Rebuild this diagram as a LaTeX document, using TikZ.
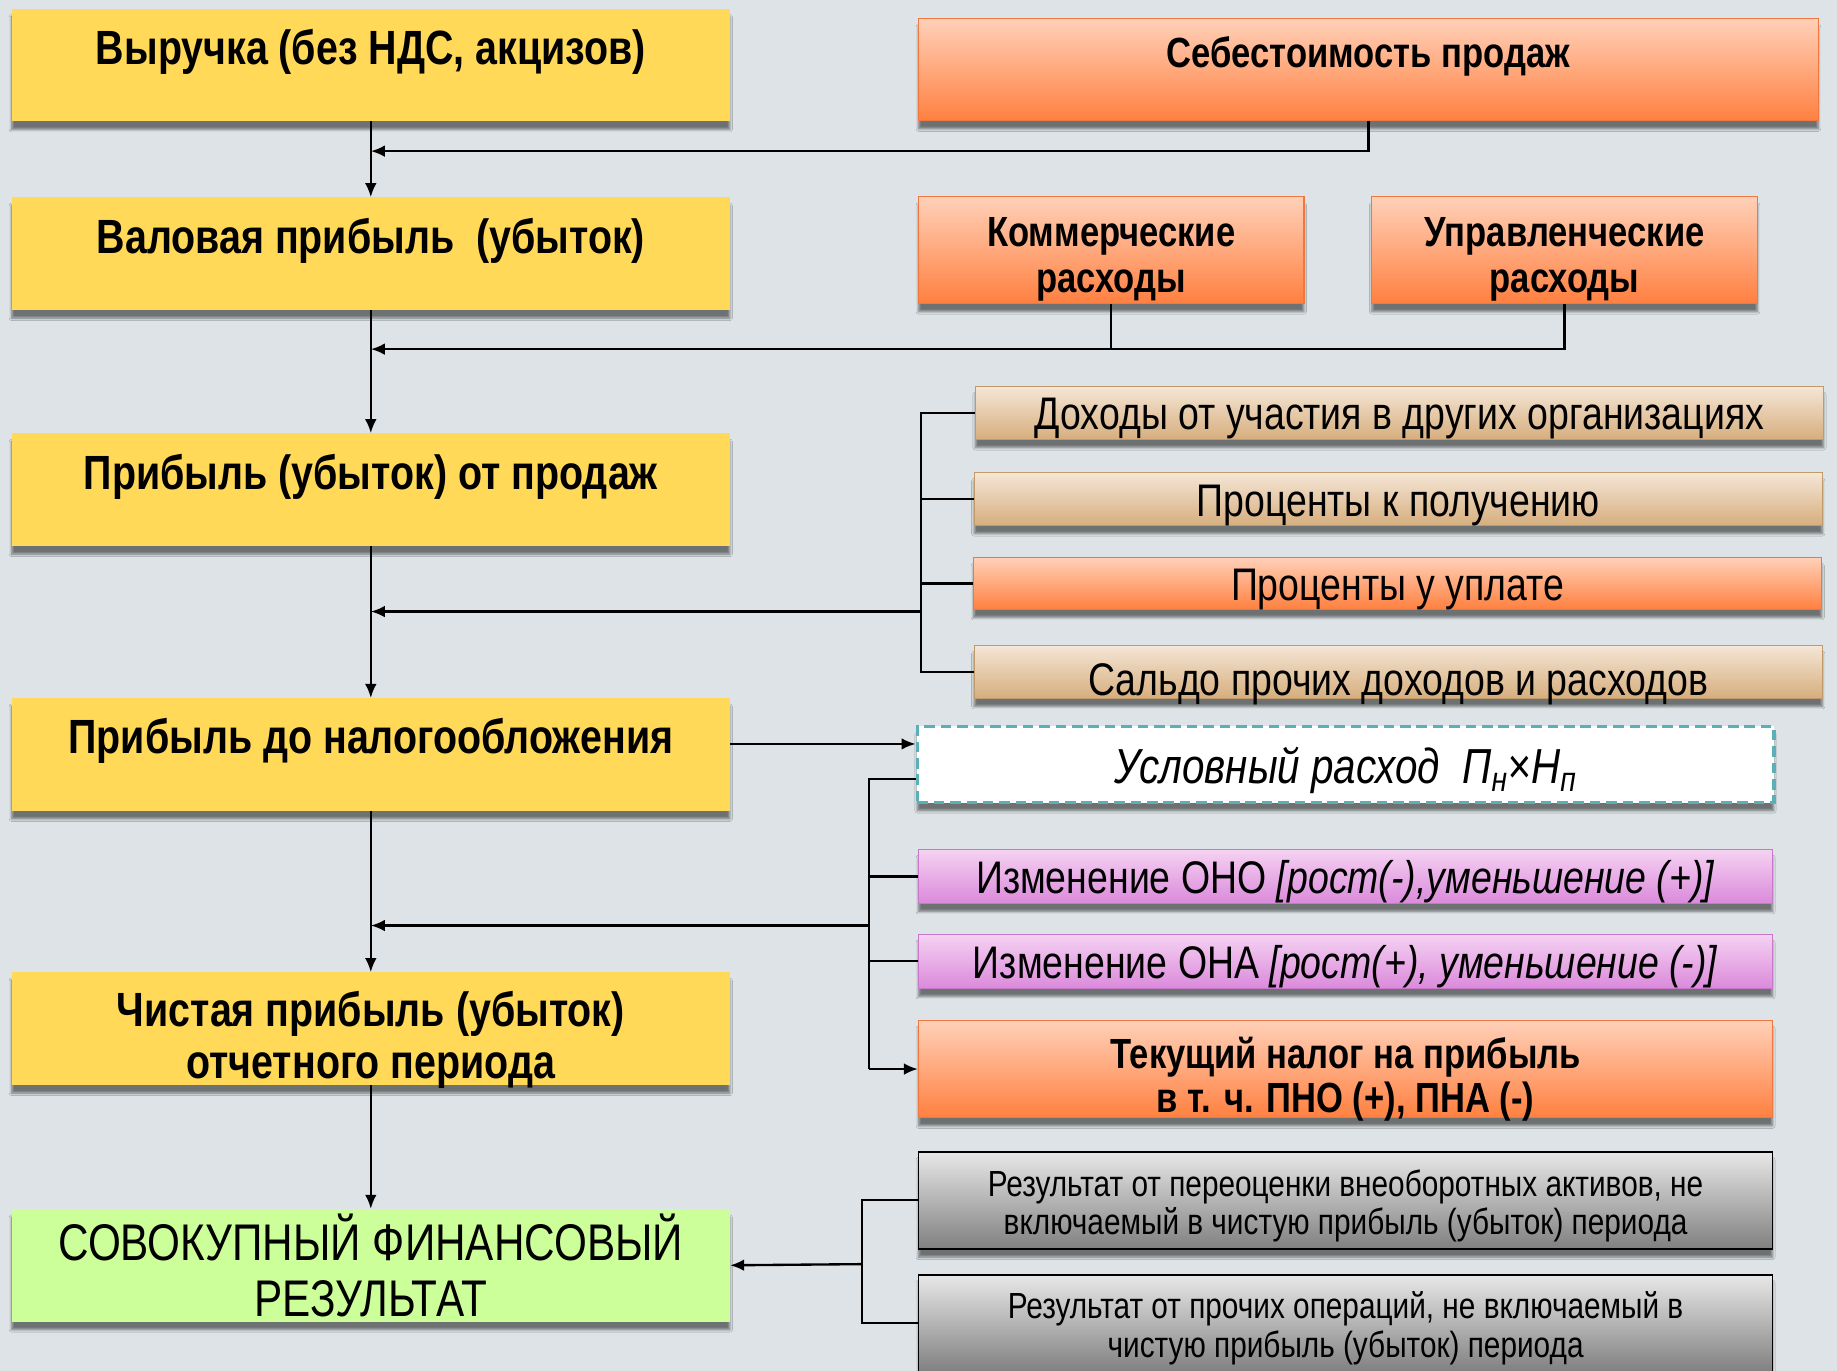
\documentclass[tikz,border=0pt]{standalone}
\usepackage{fontspec}
\setmainfont{Liberation Sans}[FakeStretch=0.82]
\usetikzlibrary{arrows.meta, positioning, shadows.blur}
\definecolor{bgc}{RGB}{221,227,230}
\definecolor{yel}{RGB}{255,217,87}
\definecolor{grn}{RGB}{204,255,153}
\definecolor{ortop}{RGB}{255,208,184}
\definecolor{orbot}{RGB}{255,128,64}
\definecolor{oredge}{RGB}{240,120,64}
\definecolor{tantop}{RGB}{245,230,214}
\definecolor{tanbot}{RGB}{214,174,126}
\definecolor{tanedge}{RGB}{192,154,106}
\definecolor{purtop}{RGB}{245,210,242}
\definecolor{purbot}{RGB}{219,138,219}
\definecolor{puredge}{RGB}{200,120,200}
\definecolor{grtop}{RGB}{232,232,232}
\definecolor{grbot}{RGB}{128,128,128}
\definecolor{teal}{RGB}{91,176,184}

\begin{document}
\begin{tikzpicture}[
x=1pt, y=-1pt,
box/.style={rectangle, inner sep=0pt, align=center, blur shadow={shadow xshift=0pt, shadow yshift=-7pt, shadow blur steps=6, shadow opacity=50}},
ybox/.style={box, fill=yel, minimum width=613pt, minimum height=96pt, font=\fontsize{41}{44}\selectfont\bfseries},
hightext/.style={text height=30pt, text depth=31pt},
obox/.style={box, draw=oredge, line width=1pt, top color=ortop, bottom color=orbot},
tbox/.style={box, draw=tanedge, line width=1pt, top color=tantop, bottom color=tanbot, minimum width=724pt, minimum height=45pt, font=\fontsize{39}{40}\selectfont, text height=29pt, text depth=0pt},
pbox/.style={box, draw=puredge, line width=1pt, top color=purtop, bottom color=purbot, minimum width=729pt, minimum height=46pt, font=\fontsize{39}{40}\selectfont, text height=29pt, text depth=0pt},
gbox/.style={box, draw=black, line width=1.5pt, top color=grtop, bottom color=grbot, minimum width=729pt, minimum height=83pt, font=\fontsize{31}{33}\selectfont, text depth=0pt},
arrow/.style={-{Latex[length=12pt, width=10pt]}, line width=2pt},
link/.style={line width=2pt}
]
\fill[bgc] (0,0) rectangle (1568,1170);
\useasboundingbox (0,0) rectangle (1568,1170);

\node[ybox, hightext] (vyruchka) at (316.5,55.5) {Выручка (без НДС, акцизов)};
\node[ybox, hightext] (valovaya) at (316.5,216.5) {Валовая прибыль \ (убыток)};
\node[ybox, hightext] (prodazhi) at (316.5,418) {Прибыль (убыток) от продаж};
\node[ybox, hightext] (donalog) at (316.5,644) {Прибыль до налогообложения};
\node[ybox, text height=85pt, text depth=0pt] (chistaya) at (316.5,878) {Чистая прибыль (убыток)\\отчетного периода};
\node[ybox, fill=grn, font=\fontsize{44}{48}\selectfont] (sovok) at (316.5,1080) {СОВОКУПНЫЙ ФИНАНСОВЫЙ\\РЕЗУЛЬТАТ};

\node[obox, minimum width=768pt, minimum height=87pt, font=\fontsize{36}{40}\selectfont\bfseries, text height=26pt, text depth=29pt] (sebest) at (1168,59.5) {Себестоимость продаж};
\node[obox, minimum width=329pt, minimum height=91pt, font=\fontsize{36}{40}\selectfont\bfseries, text height=73pt, text depth=0pt] (kommer) at (948.5,213.5) {Коммерческие\\расходы};
\node[obox, minimum width=329pt, minimum height=91pt, font=\fontsize{36}{40}\selectfont\bfseries, text height=73pt, text depth=0pt] (upravl) at (1335.5,213.5) {Управленческие\\расходы};

\node[tbox] (dohody) at (1194.5,352.5) {Доходы от участия в других организациях};
\node[tbox] (prpol) at (1193.5,426) {Проценты к получению};
\node[obox, minimum width=724pt, minimum height=44pt, font=\fontsize{39}{40}\selectfont, text height=29pt, text depth=0pt] (prupl) at (1193,498) {Проценты у уплате};
\node[tbox, text height=41pt] (saldo) at (1193.5,573.5) {Сальдо прочих доходов и расходов};

\node[box, draw=teal, line width=3pt, dash pattern=on 9pt off 5pt, fill=white, minimum width=731pt, minimum height=65pt, font=\fontsize{42}{44}\selectfont\itshape, text height=32pt, text depth=0pt] (uslov) at (1148.5,652.5) {Условный расход \ П\textsubscript{н}×Н\textsubscript{п}};
\node[pbox] (ono) at (1148.5,748) {Изменение ОНО \textit{[рост(-),уменьшение (+)]}};
\node[pbox] (ona) at (1148.5,820.5) {Изменение ОНА \textit{[рост(+), уменьшение (-)]}};
\node[obox, minimum width=729pt, minimum height=83pt, font=\fontsize{36}{38}\selectfont\bfseries, text height=75pt, text depth=0pt] (tekush) at (1148.5,912.5) {Текущий налог на прибыль\\в т. ч. ПНО (+), ПНА (-)};

\node[gbox, text height=59pt] (rez1) at (1148.5,1024.5) {Результат от переоценки внеоборотных активов, не\\включаемый в чистую прибыль (убыток) периода};
\node[gbox, text height=58pt] (rez2) at (1148.5,1129.5) {Результат от прочих операций, не включаемый в\\чистую прибыль (убыток) периода};

\coordinate (j1) at (316.5,129);
\coordinate (j2) at (316.5,298);
\coordinate (j3) at (786,522);
\coordinate (j4) at (742,790);
\coordinate (j5) at (736,1079);

\draw[arrow] (vyruchka) -- (valovaya);
\draw[arrow] (sebest) |- (j1);
\draw[arrow] (valovaya) -- (prodazhi);
\draw[link] (kommer) -- (kommer |- j2);
\draw[arrow] (upravl) |- (j2);
\draw[arrow] (prodazhi) -- (donalog);
\draw[link] (dohody.west) -- (dohody.west -| j3) -- (saldo.west -| j3) -- (saldo.west);
\draw[link] (prpol.west) -- (prpol.west -| j3);
\draw[link] (prupl.west) -- (prupl.west -| j3);
\draw[arrow] (j3) -- (j3 -| prodazhi);
\draw[arrow] ([yshift=9pt]donalog.east) -- ([yshift=9pt]donalog.east -| uslov.west);
\draw[arrow] (donalog) -- (chistaya);
\draw[link] ([yshift=-12.5pt]uslov.west) -- ([yshift=-12.5pt]uslov.west -| j4) -- (tekush.west -| j4);
\draw[arrow] (tekush.west -| j4) -- (tekush.west);
\draw[link] (ono.west) -- (ono.west -| j4);
\draw[link] (ona.west) -- (ona.west -| j4);
\draw[arrow] (j4) -- (j4 -| donalog);
\draw[arrow] (chistaya) -- (sovok);
\draw[link] (rez1.west) -- (rez1.west -| j5) -- (rez2.west -| j5) -- (rez2.west);
\draw[arrow] (j5) -- (sovok.east);

\end{tikzpicture}
\end{document}
